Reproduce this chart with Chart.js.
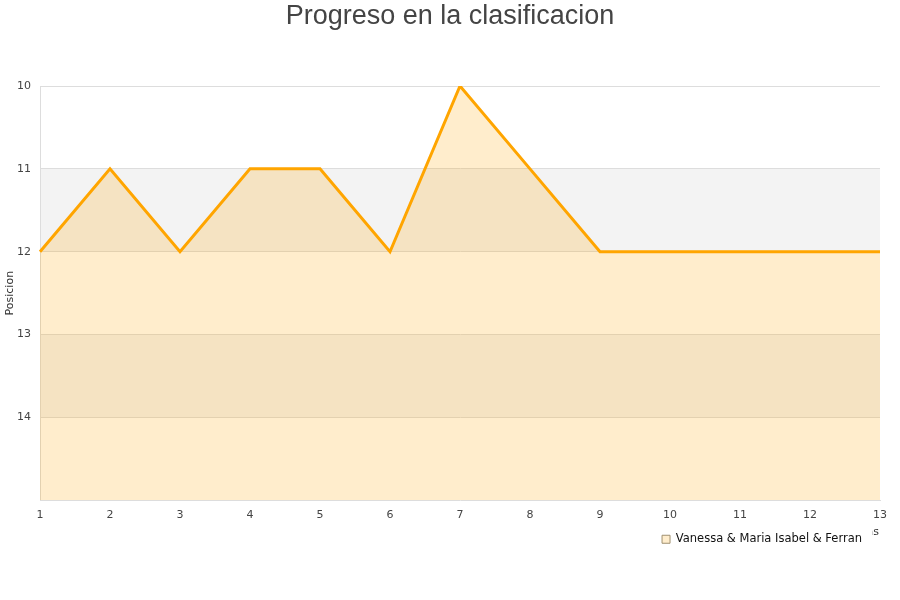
<!DOCTYPE html>
<html><head><meta charset="utf-8">
<script src="https://cdn.jsdelivr.net/npm/chart.js@4"></script>
<style>html,body{margin:0;padding:0;background:#fff}#w{width:900px;height:600px}</style>
</head><body><div id="w"><canvas id="c"></canvas></div>
<script>
const jornadas = ['1','2','3','4','5','6','7','8','9','10','11','12','13'];
const posiciones = [12,11,12,11,11,12,10,11,12,12,12,12,12];
const yTicks = [10,11,12,13,14];
const serieNombre = 'Vanessa & Maria Isabel & Ferran';
const titulo = 'Progreso en la clasificacion';
const bandas = [[11,12],[13,14]];

const bg = {
  id:'bg',
  afterLayout(chart){
    const l = chart.legend;
    if (l) { l.left -= 14; l.right -= 14; }
  },
  beforeDraw(chart){
    const {ctx, chartArea:a, scales:{y}} = chart;
    ctx.save();
    ctx.fillStyle = '#f3f3f3';
    bandas.forEach(([s,e])=>{
      const p1 = y.getPixelForValue(s), p2 = y.getPixelForValue(e);
      ctx.fillRect(a.left, Math.min(p1,p2), a.right-a.left, Math.abs(p2-p1));
    });
    // title
    ctx.font = '27px "Liberation Sans", Arial, sans-serif';
    ctx.fillStyle = '#444';
    ctx.textAlign = 'center';
    ctx.textBaseline = 'middle';
    ctx.fillText(titulo, 450, 17);
    // x axis title partially hidden behind legend
    ctx.font = '11px "DejaVu Sans"';
    ctx.fillStyle = '#333';
    ctx.textAlign = 'right';
    ctx.textBaseline = 'alphabetic';
    ctx.fillText('Jornadas', 879, 535);
    ctx.fillStyle = '#fff';
    ctx.fillRect(640, 527, 232, 30);
    ctx.restore();
  }
};

new Chart(document.getElementById('c'), {
  type:'line',
  data:{labels:jornadas, datasets:[{
    label:serieNombre, data:posiciones,
    borderColor:'#ffa500', borderWidth:3,
    backgroundColor:'rgba(255,165,0,0.2)',
    fill:{value:15}, pointRadius:0, tension:0
  }]},
  options:{
    responsive:true, maintainAspectRatio:false, animation:false,
    layout:{padding:{left:0,right:20,top:86,bottom:45}},
    plugins:{
      title:{display:false},
      legend:{position:'bottom', align:'end', labels:{color:'#111', boxWidth:8, boxHeight:8,
        font:{size:11.5, family:'"DejaVu Sans", sans-serif'}, padding:4,
        generateLabels(chart){
          return [{text:serieNombre, fillStyle:'#ffedcc', strokeStyle:'#a09070', lineWidth:1, datasetIndex:0, fontColor:'#111'}];
        }}},
      tooltip:{enabled:false}
    },
    scales:{
      x:{offset:false, grid:{display:false, drawTicks:false}, border:{color:'#ddd'},
        ticks:{color:'#444', font:{size:11, family:'"DejaVu Sans", sans-serif'}, padding:8, maxRotation:0}},
      y:{reverse:true, min:10, max:15,
        afterFit(s){ s.width = 40; },
        grid:{color:'#ddd', drawTicks:false}, border:{color:'#ddd'},
        afterBuildTicks(s){ s.ticks = yTicks.map(v=>({value:v})); },
        ticks:{color:'#444', font:{size:11, family:'"DejaVu Sans", sans-serif'}, padding:9},
        title:{display:true, text:'Posicion', color:'#333', font:{size:11, family:'"DejaVu Sans", sans-serif'}, padding:{top:4,bottom:0}}
      }
    }
  },
  plugins:[bg]
});
</script></body></html>
